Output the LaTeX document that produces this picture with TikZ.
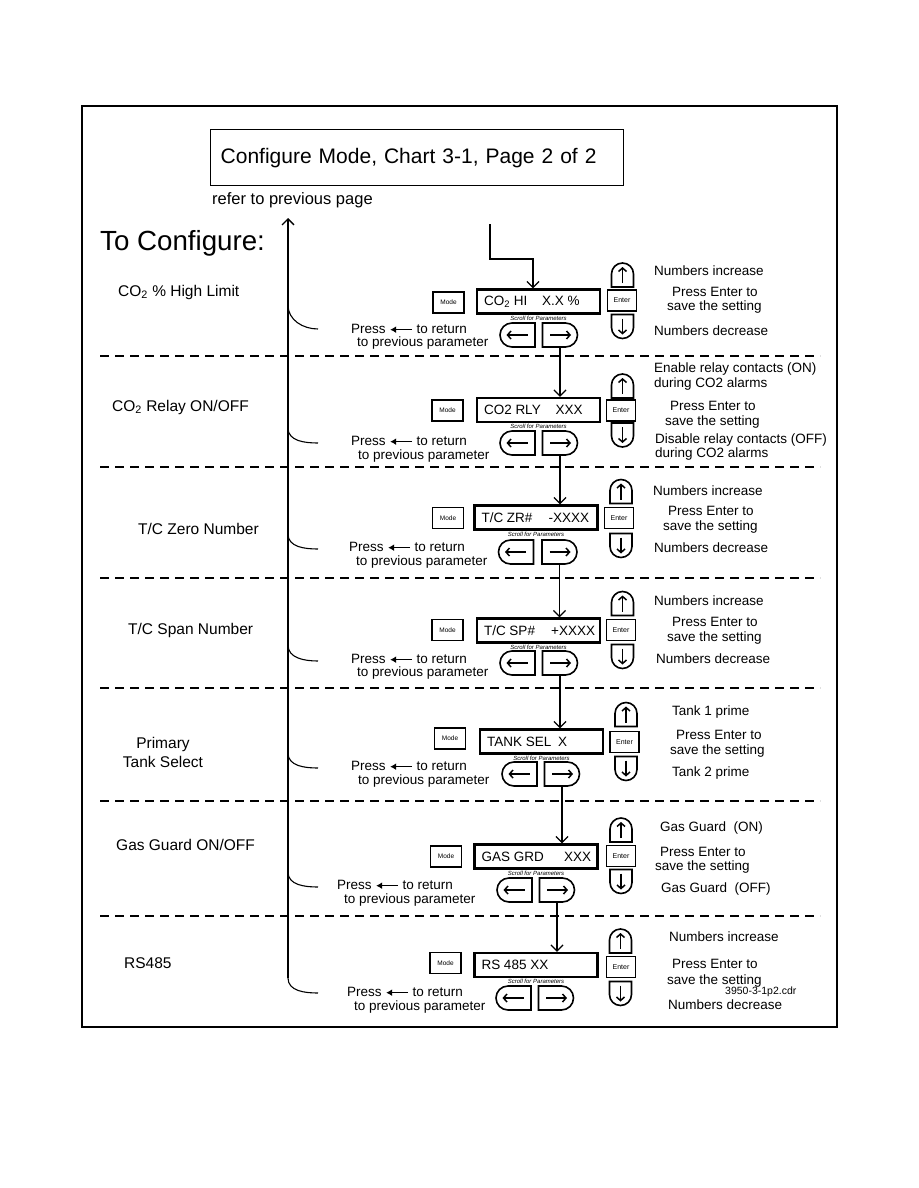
\documentclass[tikz,border=0pt]{standalone}
\usepackage{fontspec}
\setmainfont{Liberation Sans}
\usetikzlibrary{positioning,arrows.meta,shapes.misc}
\newcommand{\lcd}[1]{\makebox[109pt][l]{#1}}
\newcommand{\backarrow}{\tikz[baseline=-0.55ex]\draw[line width=1.5pt,-{Latex[length=6pt,width=7pt]}] (0pt,0pt) -- (-22pt,0pt);}

\begin{document}
\begin{tikzpicture}[
  x=1pt, y=-1pt,
  txt/.style={anchor=west, inner sep=0pt, font=\fontsize{13.5}{15}\selectfont},
  lbl/.style={anchor=west, inner sep=0pt, font=\fontsize{15.5}{19}\selectfont},
  disp/.style={draw, line width=2.3pt, minimum width=123pt, minimum height=24pt,
    inner xsep=7pt, inner ysep=0pt, font=\fontsize{13.5}{15}\selectfont},
  modekey/.style={draw, line width=1.6pt, minimum width=31pt, minimum height=21pt,
    inner sep=0pt, font=\fontsize{6.5}{7}\selectfont},
  enterkey/.style={modekey, minimum width=29pt, font=\fontsize{7}{8}\selectfont},
  padkey/.style={rounded rectangle, draw, line width=1.6pt, inner sep=0pt,
    minimum width=35pt, minimum height=24pt},
  leftk/.style={padkey, rounded rectangle east arc=none},
  rightk/.style={padkey, rounded rectangle west arc=none},
  upk/.style={rightk, rotate=90, minimum width=24pt, minimum height=22pt},
  downk/.style={leftk, rotate=90, minimum width=24pt, minimum height=22pt},
  keyarrow/.style={line width=1.5pt, -{Straight Barb[length=3.5pt,width=8pt]}},
  scroll/.style={inner sep=0pt, font=\fontsize{6}{6}\selectfont\itshape},
  sepline/.style={line width=1.4pt, dash pattern=on 9pt off 6pt},
  flow/.style={line width=1.3pt, -{Straight Barb[length=6pt,width=12pt]}},
  back/.style={line width=1.1pt}
]
  \useasboundingbox (0,0) rectangle (918,1188);
  \draw[line width=1.4pt] (82,106) rectangle (837,1027);

  % heading
  \node[draw, line width=1.4pt, anchor=north west, minimum width=413pt, minimum height=56pt,
    inner xsep=10pt, text width=393pt, align=left, font=\fontsize{21}{24}\selectfont]
    (title) at (210,129) {Configure Mode, Chart 3-1, Page 2 of 2};
  \node[anchor=west, inner sep=0pt, font=\fontsize{16.5}{18}\selectfont] (refer) at (212,200) {refer to previous page};
  \node[anchor=west, inner sep=0pt, font=\fontsize{27.7}{30}\selectfont] (tocfg) at (100,243) {To Configure:};

  % CO2 high limit
  \node[lbl] (lab1) at (118,292) {CO\textsubscript{2} \% High Limit};
  \node[modekey] (mode1) at (448.5,302.5) {Mode};
  \node[disp] (disp1) at (538.5,301.5) {\lcd{CO\textsubscript{2} HI\hspace{1.1em}X.X \%}};
  \node[scroll, below=1pt of disp1] (scr1) {Scroll for Parameters};
  \node[leftk] (lt1) at (517.5,335) {};
  \node[rightk] (rt1) at (560,335) {};
  \node[upk] (up1) at (622.5,275) {};
  \node[enterkey] (ent1) at (622,300.5) {Enter};
  \node[downk] (dn1) at (622.5,326.5) {};
  \node[txt] (inc1) at (654,271) {Numbers increase};
  \node[txt] (pe1) at (672,292) {Press Enter to};
  \node[txt] (ss1) at (667,307) {save the setting};
  \node[txt] (dec1) at (654,331) {Numbers decrease};
  \node[txt] (pr1) at (351,329) {Press \backarrow{} to return};
  \node[txt] (pp1) at (357,343) {to previous parameter};

  % CO2 relay
  \node[lbl] (lab2) at (112,407) {CO\textsubscript{2} Relay ON/OFF};
  \node[modekey] (mode2) at (447.5,410.5) {Mode};
  \node[disp] (disp2) at (538.5,410) {\lcd{CO2 RLY\hspace{1.1em}XXX}};
  \node[scroll, below=1pt of disp2] (scr2) {Scroll for Parameters};
  \node[leftk] (lt2) at (517.5,443) {};
  \node[rightk] (rt2) at (560,443) {};
  \node[upk] (up2) at (622.5,386) {};
  \node[enterkey] (ent2) at (621,410.5) {Enter};
  \node[downk] (dn2) at (622.5,435) {};
  \node[txt] (on2) at (654,369) {Enable relay contacts (ON)};
  \node[txt] (ona2) at (654,384) {during CO2 alarms};
  \node[txt] (pe2) at (670,406) {Press Enter to};
  \node[txt] (ss2) at (665,422) {save the setting};
  \node[txt] (off2) at (655,440) {Disable relay contacts (OFF)};
  \node[txt] (offa2) at (655,454) {during CO2 alarms};
  \node[txt] (pr2) at (351,441) {Press \backarrow{} to return};
  \node[txt] (pp2) at (358,456) {to previous parameter};

  % T/C zero
  \node[lbl] (lab3) at (138,529) {T/C Zero Number};
  \node[modekey] (mode3) at (448,518) {Mode};
  \node[disp] (disp3) at (536,517.5) {\lcd{T/C ZR\#\hspace{1.2em}-XXXX}};
  \node[scroll, below=1pt of disp3] (scr3) {Scroll for Parameters};
  \node[leftk] (lt3) at (516,552) {};
  \node[rightk] (rt3) at (559.5,552) {};
  \node[upk] (up3) at (621,491.5) {};
  \node[enterkey] (ent3) at (619,518) {Enter};
  \node[downk] (dn3) at (621,545.5) {};
  \node[txt] (inc3) at (653,491) {Numbers increase};
  \node[txt] (pe3) at (668,511) {Press Enter to};
  \node[txt] (ss3) at (663,527) {save the setting};
  \node[txt] (dec3) at (654,548) {Numbers decrease};
  \node[txt] (pr3) at (349,547) {Press \backarrow{} to return};
  \node[txt] (pp3) at (356,562) {to previous parameter};

  % T/C span
  \node[lbl] (lab4) at (128,630) {T/C Span Number};
  \node[modekey] (mode4) at (447.5,630) {Mode};
  \node[disp] (disp4) at (538.5,630.5) {\lcd{T/C SP\#\hspace{1.2em}+XXXX}};
  \node[scroll, below=1pt of disp4] (scr4) {Scroll for Parameters};
  \node[leftk] (lt4) at (517.5,663) {};
  \node[rightk] (rt4) at (560,663) {};
  \node[upk] (up4) at (622.5,603.5) {};
  \node[enterkey] (ent4) at (621,630) {Enter};
  \node[downk] (dn4) at (622.5,656.5) {};
  \node[txt] (inc4) at (654,601) {Numbers increase};
  \node[txt] (pe4) at (672,622) {Press Enter to};
  \node[txt] (ss4) at (667,638) {save the setting};
  \node[txt] (dec4) at (656,659) {Numbers decrease};
  \node[txt] (pr4) at (351,659) {Press \backarrow{} to return};
  \node[txt] (pp4) at (357,673) {to previous parameter};

  % primary tank
  \node[lbl, anchor=center, align=center] (lab5) at (163,752.5) {Primary\\Tank Select};
  \node[modekey] (mode5) at (450,738.5) {Mode};
  \node[disp] (disp5) at (541.5,741.5) {\lcd{TANK SEL\hspace{0.5em}X}};
  \node[scroll, below=1pt of disp5] (scr5) {Scroll for Parameters};
  \node[leftk] (lt5) at (519.5,774) {};
  \node[rightk] (rt5) at (562,774) {};
  \node[upk] (up5) at (626,714.5) {};
  \node[enterkey] (ent5) at (624.5,742) {Enter};
  \node[downk] (dn5) at (626,768.5) {};
  \node[txt] (tk1) at (672,712) {Tank 1 prime};
  \node[txt] (pe5) at (676,735) {Press Enter to};
  \node[txt] (ss5) at (670,751) {save the setting};
  \node[txt] (tk2) at (672,773) {Tank 2 prime};
  \node[txt] (pr5) at (351,766) {Press \backarrow{} to return};
  \node[txt] (pp5) at (358,781) {to previous parameter};

  % gas guard
  \node[lbl] (lab6) at (116,845) {Gas Guard ON/OFF};
  \node[modekey] (mode6) at (446,856.5) {Mode};
  \node[disp] (disp6) at (536,856.5) {\lcd{GAS GRD\hspace{1.5em}XXX}};
  \node[scroll, below=1pt of disp6] (scr6) {Scroll for Parameters};
  \node[leftk] (lt6) at (514.5,890) {};
  \node[rightk] (rt6) at (557,890) {};
  \node[upk] (up6) at (621,830) {};
  \node[enterkey] (ent6) at (621,856) {Enter};
  \node[downk] (dn6) at (621,881.5) {};
  \node[txt] (gon6) at (660,828) {Gas Guard\ \ (ON)};
  \node[txt] (pe6) at (660,852) {Press Enter to};
  \node[txt] (ss6) at (655,867) {save the setting};
  \node[txt] (goff6) at (661,889) {Gas Guard\ \ (OFF)};
  \node[txt] (pr6) at (337,885) {Press \backarrow{} to return};
  \node[txt] (pp6) at (344,900) {to previous parameter};

  % RS485
  \node[lbl] (lab7) at (124,963) {RS485};
  \node[modekey] (mode7) at (445.5,963) {Mode};
  \node[disp] (disp7) at (536,965) {\lcd{RS 485 XX}};
  \node[scroll, below=1pt of disp7] (scr7) {Scroll for Parameters};
  \node[leftk] (lt7) at (513.5,998) {};
  \node[rightk] (rt7) at (556,998) {};
  \node[upk] (up7) at (620.5,941) {};
  \node[enterkey] (ent7) at (621,967) {Enter};
  \node[downk] (dn7) at (620.5,993.5) {};
  \node[txt] (inc7) at (669,937) {Numbers increase};
  \node[txt] (pe7) at (672,964) {Press Enter to};
  \node[txt] (ss7) at (667,981) {save the setting};
  \node[txt, font=\fontsize{10.5}{12}\selectfont] (file) at (725,992) {3950-3-1p2.cdr};
  \node[txt] (dec7) at (668,1005) {Numbers decrease};
  \node[txt] (pr7) at (347,992) {Press \backarrow{} to return};
  \node[txt] (pp7) at (354,1007) {to previous parameter};

  % key arrows
  \foreach \i in {1,...,7}{
    \draw[keyarrow] ([xshift=10pt]lt\i.center) -- ([xshift=-11pt]lt\i.center);
    \draw[keyarrow] ([xshift=-10pt]rt\i.center) -- ([xshift=11pt]rt\i.center);
    \draw[keyarrow] ([yshift=-8pt]up\i.center) -- ([yshift=8pt]up\i.center);
    \draw[keyarrow] ([yshift=8pt]dn\i.center) -- ([yshift=-8pt]dn\i.center);
  }

  % separators
  \foreach \y in {356,467,578,688,801,916}
    \draw[sepline] (100,\y) -- (820,\y);

  % flow
  \coordinate (entry) at (490,224);
  \coordinate (bend) at (533,259);
  \draw[flow] (entry) |- (bend) -- (bend |- disp1.north);
  \foreach \a/\b in {1/2,2/3,3/4,4/5,5/6,6/7}
    \draw[flow] (rt\a.south) -- (rt\a.south |- disp\b.north);

  % return path
  \foreach \i/\ya/\yb in {1/305/329,2/428/443,3/534/549,4/645/661,5/753/768,6/872/887,7/978/993}{
    \coordinate (rc\i) at (288,\ya);
    \coordinate (re\i) at (318,\yb);
    \draw[back] (rc\i) to[out=-90,in=180] (re\i);
  }
  \coordinate (rettop) at (288,218);
  \draw[flow] (rc7) -- (rettop);
\end{tikzpicture}
\end{document}
